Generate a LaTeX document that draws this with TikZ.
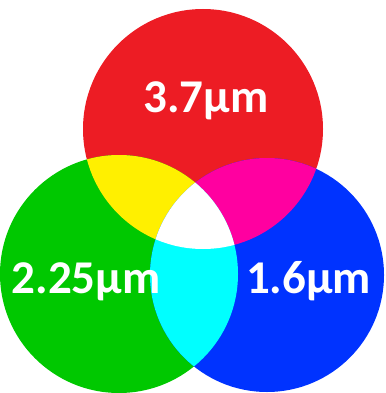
\documentclass[tikz,border=0pt]{standalone}
\usepackage{fontspec}
\setmainfont{Carlito}
\definecolor{cred}{RGB}{237,28,36}
\definecolor{cgreen}{RGB}{0,200,0}
\definecolor{cblue}{RGB}{0,51,255}
\definecolor{cyel}{RGB}{255,240,0}
\definecolor{cmag}{RGB}{255,0,160}
\definecolor{ccyan}{RGB}{0,255,255}
\tikzset{lbl/.style={text=white,font=\bfseries\fontsize{47}{47}\selectfont,anchor=base,inner sep=0pt}}
\begin{document}
\begin{tikzpicture}[x=1pt,y=-1pt]
\useasboundingbox (0,0) rectangle (385,393);
\coordinate (R) at (203,129);
\coordinate (G) at (119,274);
\coordinate (B) at (267,275);
\def\rR{120}\def\rG{119}\def\rB{117}
\fill[cred] (R) circle[radius=\rR];
\fill[cgreen] (G) circle[radius=\rG];
\fill[cblue] (B) circle[radius=\rB];
\begin{scope}
\clip (R) circle[radius=\rR];
\fill[cyel] (G) circle[radius=\rG];
\fill[cmag] (B) circle[radius=\rB];
\end{scope}
\begin{scope}
\clip (G) circle[radius=\rG];
\fill[ccyan] (B) circle[radius=\rB];
\clip (B) circle[radius=\rB];
\fill[white] (R) circle[radius=\rR];
\end{scope}
\node[lbl] (t1) at (206,113) {3.7µm};
\node[lbl] (t2) at (86,293) {2.25µm};
\node[lbl] (t3) at (308.5,293) {1.6µm};
\end{tikzpicture}
\end{document}
